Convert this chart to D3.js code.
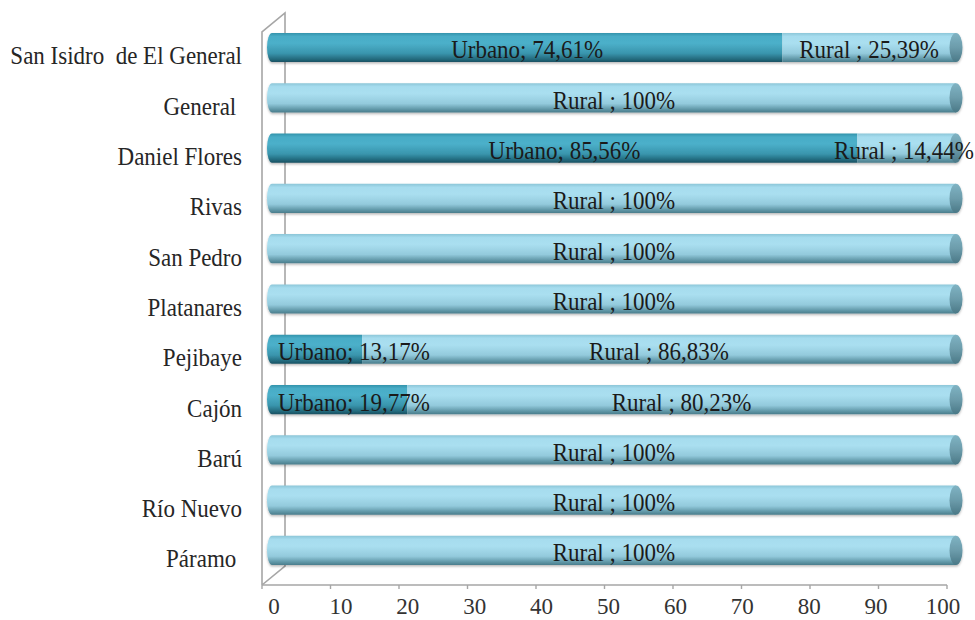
<!DOCTYPE html>
<html>
<head>
<meta charset="utf-8">
<script src="https://cdn.jsdelivr.net/npm/d3@7"></script>
<style>
  html, body { margin: 0; padding: 0; background: #ffffff; }
  svg { display: block; }
  text { font-family: "Liberation Serif", "Times New Roman", serif; white-space: pre; }
</style>
</head>
<body>
<svg id="chart" width="975" height="620"></svg>
<script>
// Distritos y porcentaje de población urbana / rural
const categories = [
  "San Isidro  de El General", "General ", "Daniel Flores", "Rivas", "San Pedro",
  "Platanares", "Pejibaye", "Cajón", "Barú", "Río Nuevo", "Páramo "
];
const urbano = [74.61, 0, 85.56, 0, 0, 0, 13.17, 19.77, 0, 0, 0];
const rural  = [25.39, 100, 14.44, 100, 100, 100, 86.83, 80.23, 100, 100, 100];
const xTicks = [0, 10, 20, 30, 40, 50, 60, 70, 80, 90, 100];

const svg = d3.select("#chart");
const defs = svg.append("defs");
const STRETCH = 1.07; // ligera elongación vertical del texto

function vGrad(id, stops) {
  const g = defs.append("linearGradient").attr("id", id)
    .attr("x1", 0).attr("y1", 0).attr("x2", 0).attr("y2", 1);
  stops.forEach(([o, c]) => g.append("stop").attr("offset", o).attr("stop-color", c));
}
vGrad("gUrb", [[0, "#3393ab"], [0.12, "#48acc6"], [0.35, "#4cb0ca"], [0.7, "#3995ad"], [0.9, "#236a7d"], [1, "#1a5061"]]);
vGrad("gRur", [[0, "#8cc6d8"], [0.12, "#a6dcee"], [0.35, "#aadff0"], [0.7, "#93cadc"], [0.9, "#5f96a6"], [1, "#4a7d8c"]]);
vGrad("gCap", [[0, "#7fb3c3"], [0.5, "#6c9cab"], [1, "#4a7886"]]);

const shadow = defs.append("filter").attr("id", "shadow")
  .attr("x", "-5%").attr("y", "-30%").attr("width", "110%").attr("height", "170%");
shadow.append("feDropShadow").attr("dx", 0).attr("dy", 1.5).attr("stdDeviation", 1.2)
  .attr("flood-color", "#000").attr("flood-opacity", 0.28);

// Escalas
const y = d3.scaleBand().domain(categories).range([22.85, 575.1]).paddingInner(0.42).paddingOuter(0.2);
const xBar = d3.scaleLinear().domain([0, 100]).range([272, 956]);     // cilindros
const xFloor = d3.scaleLinear().domain([0, 100]).range([262, 947]);   // borde frontal del piso
const xLab = d3.scaleLinear().domain([0, 100]).range([274, 943]);     // etiquetas del eje

function place(sel, xf, yf, s) {
  sel.attr("transform", (d, i) => `translate(${xf(d, i)},${yf(d, i)}) scale(1,${s})`);
}

// Marco 3D (pared y piso)
const frame = svg.append("g").attr("fill", "none").attr("stroke", "#a6a6a6").attr("stroke-width", 1.6);
frame.append("path").attr("d", `M262,585 L262,32 L285,13 L285,566 L262,585`);
frame.append("line").attr("x1", 262).attr("y1", 585).attr("x2", 947).attr("y2", 585);

// Eje X
const axis = svg.append("g").attr("transform", "translate(0,585)");
axis.selectAll("line.tick").data(xTicks).join("line")
  .attr("x1", d => xFloor(d)).attr("x2", d => xFloor(d))
  .attr("y1", 0).attr("y2", 4).attr("stroke", "#a6a6a6").attr("stroke-width", 1.4);
axis.selectAll("text").data(xTicks).join("text")
  .attr("text-anchor", "middle").attr("font-size", 23).attr("fill", "#333")
  .text(d => d)
  .call(place, d => xLab(d), () => 28.5, 1);

// Etiquetas de categoría
svg.append("g").selectAll("text").data(categories).join("text")
  .attr("text-anchor", "end").attr("font-size", 23).attr("fill", "#262626")
  .text(d => d)
  .call(place, () => 242, d => y(d) + y.bandwidth() / 2 + 17, STRETCH);

// Cilindros apilados
const h = y.bandwidth();
const rxL = 5, rxR = 6.5;
const rows = categories.map((c, i) => ({ c, u: urbano[i], r: rural[i] }));
const bars = svg.append("g").selectAll("g").data(rows).join("g")
  .attr("transform", d => `translate(0,${y(d.c)})`)
  .attr("filter", "url(#shadow)");

function segPath(x0, x1, roundLeft) {
  if (roundLeft) {
    return `M${x0},0 L${x1},0 L${x1},${h} L${x0},${h} A${rxL},${h / 2} 0 0 1 ${x0},0 Z`;
  }
  return `M${x0},0 L${x1},0 L${x1},${h} L${x0},${h} Z`;
}

bars.each(function (d) {
  const g = d3.select(this);
  const xu = xBar(d.u);
  if (d.u > 0) {
    g.append("path").attr("d", segPath(xBar(0), xu, true)).attr("fill", "url(#gUrb)");
  }
  g.append("path").attr("d", segPath(d.u > 0 ? xu : xBar(0), xBar(d.u + d.r), d.u === 0))
    .attr("fill", "url(#gRur)");
  g.append("ellipse").attr("cx", xBar(d.u + d.r)).attr("cy", h / 2)
    .attr("rx", rxR).attr("ry", h / 2).attr("fill", "url(#gCap)");
});

// Etiquetas de datos
const fmt = v => String(v).replace(".", ",") + "%";
const labels = svg.append("g").attr("font-size", 23).attr("fill", "#1a1a1a");
rows.forEach(d => {
  const base = y(d.c) + h / 2 + 11;
  const segs = [];
  if (d.u > 0) segs.push({ text: "Urbano; " + fmt(d.u), a: 0, b: d.u });
  if (d.r > 0) segs.push({ text: "Rural ; " + fmt(d.r), a: d.u, b: d.u + d.r });
  segs.forEach(s => {
    const t = labels.append("text").text(s.text);
    const w = t.node().getComputedTextLength();
    let cx = (xBar(s.a) + xBar(s.b)) / 2;
    cx = Math.max(cx, 278 + w / 2);
    cx = Math.min(cx, 974 - w / 2);
    t.attr("transform", `translate(${cx - w / 2},${base}) scale(1,${STRETCH})`);
  });
});
</script>
</body>
</html>
